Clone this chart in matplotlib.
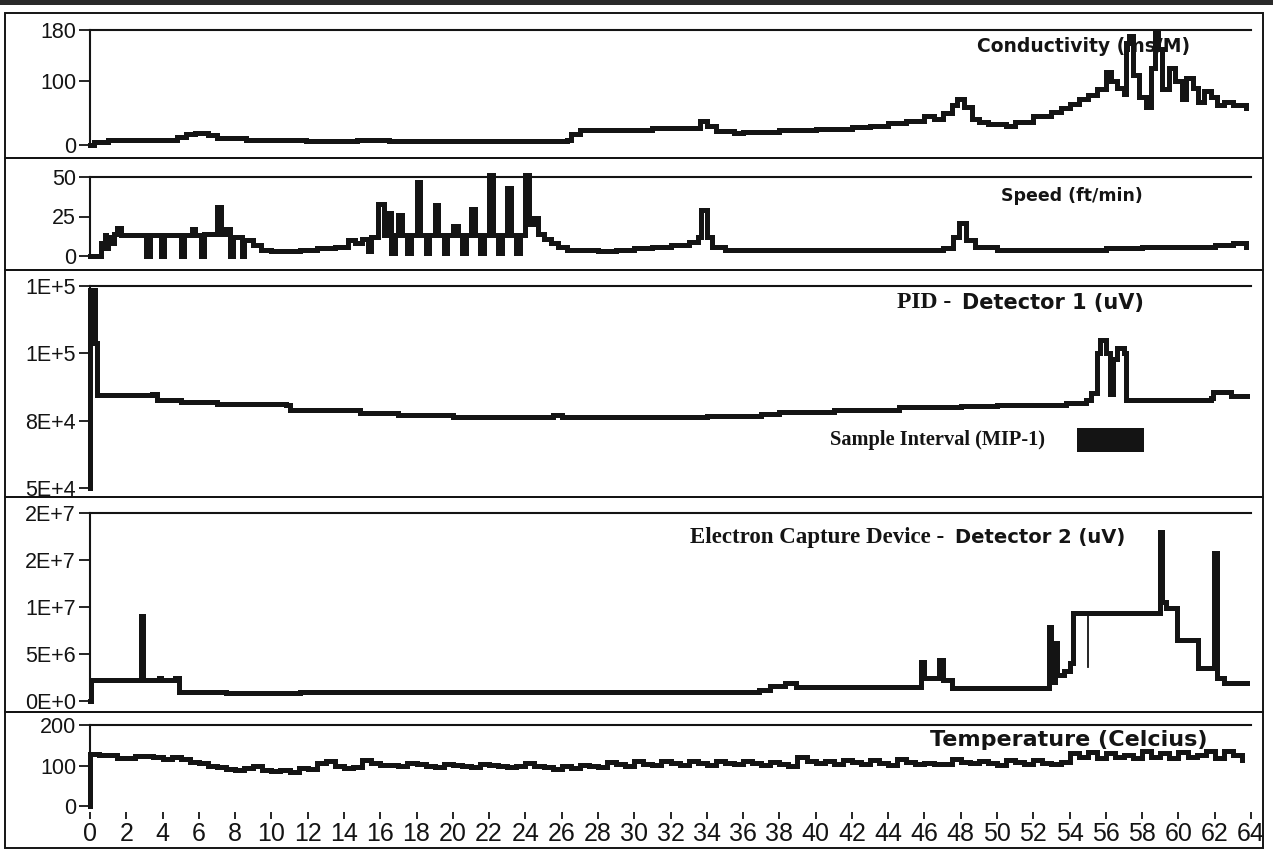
import matplotlib.pyplot as plt
from matplotlib.patches import Rectangle

plt.rcParams['font.family'] = ['Liberation Sans', 'DejaVu Sans']

x_ticks = list(range(0, 65, 2))

cond_t = [0, 0.2, 1, 3, 4.8, 5.3, 5.8, 6.5, 7, 8.6, 11.9, 14.7, 16.5, 26.3, 26.5, 27, 29, 31, 33,
          33.6, 34, 34.5, 35.5, 36, 38, 40, 42, 43, 44, 45, 46, 46.5, 47, 47.5, 47.8, 48.2, 48.6,
          49, 49.5, 50.5, 51, 52, 53, 53.5, 54, 54.5, 55, 55.5, 56, 56.3, 56.6, 57, 57.1, 57.3,
          57.5, 57.8, 58.2, 58.5, 58.7, 58.9, 59.1, 59.5, 59.8, 60.2, 60.4, 60.8, 61.1, 61.4,
          61.8, 62.1, 62.5, 63, 63.7]
cond_v = [0, 5, 8, 8, 12, 17, 19, 16, 11, 8, 6, 8, 6, 8, 18, 23, 24, 26, 27,
          38, 30, 22, 19, 21, 23, 25, 28, 30, 34, 38, 46, 40, 50, 62, 72, 60, 40,
          36, 33, 30, 36, 45, 52, 58, 64, 72, 78, 88, 115, 100, 90, 80, 160, 170,
          110, 75, 60, 120, 178, 150, 88, 120, 100, 72, 105, 90, 67, 85,
          75, 62, 68, 62, 58]

speed_t = [0, 0.5, 0.6, 0.8, 0.9, 1.0, 1.2, 1.3, 1.5, 1.7, 3.0, 3.1, 3.3, 3.8, 3.9, 4.1, 4.9, 5.0,
           5.2, 5.6, 5.8, 6.0, 6.1, 6.3, 6.9, 7.0, 7.2, 7.5, 7.7, 7.9, 8.3, 8.4, 8.5, 9.0, 9.4,
           10, 11.6, 12.5, 13.5, 14.2, 14.6, 15.0, 15.3, 15.5, 15.9, 16.2, 16.4, 16.6, 16.8,
           17.0, 17.2, 17.5, 17.7, 18.0, 18.2, 18.5, 18.7, 19.0, 19.2, 19.5, 19.7, 20.0, 20.3,
           20.5, 20.7, 21.0, 21.2, 21.5, 21.7, 22.0, 22.2, 22.5, 22.7, 23.0, 23.2, 23.5, 23.7,
           24.0, 24.2, 24.5, 24.7, 25.0, 25.4, 25.8, 26.3, 28, 29, 30, 31, 32, 33, 33.5, 33.7,
           34, 34.3, 35, 38, 42, 45, 47, 47.6, 47.9, 48.3, 48.8, 50, 54, 56, 58, 60, 62, 63, 63.7]
speed_v = [0, 0, 8, 13, 5, 12, 8, 14, 18, 13, 13, 0, 13, 13, 0, 13, 13, 0,
           13, 17, 13, 13, 0, 14, 14, 31, 14, 17, 0, 12, 12, 0, 10, 7, 4,
           3, 4, 5, 6, 10, 8, 11, 3, 12, 33, 13, 27, 2, 13,
           26, 13, 2, 13, 47, 13, 2, 13, 32, 13, 2, 13, 19, 13,
           2, 13, 30, 13, 2, 13, 51, 13, 2, 13, 43, 13, 2, 13,
           51, 20, 24, 14, 11, 8, 6, 4, 3, 4, 5, 6, 7, 9, 12, 29,
           12, 6, 4, 4, 4, 4, 5, 12, 21, 10, 6, 4, 4, 5, 6, 6, 7, 8, 6]

pid_t = [0, 0.02, 0.25, 0.4, 2.75, 3.4, 3.7, 5, 7, 10.8, 11, 13, 14.9, 17, 20, 24, 25.5, 26,
         30, 34, 37, 38, 41, 44.6, 48, 50, 53.8, 54.9, 55.2, 55.5, 55.7, 56.0, 56.2, 56.4,
         56.6, 57.0, 57.1, 61.8, 61.9, 62.9, 63.8]
pid_v = [50000, 123500, 104000, 84500, 84500, 85000, 82700, 81800, 81200, 80800, 79000, 78800,
         77800, 77000, 76500, 76500, 77000, 76300, 76500, 76800, 77500, 78400, 78800, 80000,
         80500, 80800, 81500, 82700, 85300, 100000, 105000, 100000, 85000, 98000, 102000,
         100000, 82700, 83400, 85600, 84000, 84000]
pid_ticks = [50000, 75000, 100000, 125000]
pid_labels = ['5E+4', '8E+4', '1E+5', '1E+5']
sample_interval = (54.4, 58.1)

ecd_t = [0, 0.05, 2.75, 2.8, 2.9, 3.8, 3.9, 4.7, 4.9, 7.5, 11.6, 36.9, 37.5, 38.3, 38.9, 45.7,
         45.8, 46.0, 46.8, 47.0, 47.5, 52.8, 52.85, 52.95, 53.2, 53.3, 53.7, 54.0, 54.2,
         59.0, 59.1, 59.3, 59.9, 61.1, 61.95, 62.1, 62.5, 63.8]
ecd_v = [0, 2.2e6, 2.2e6, 9.0e6, 2.2e6, 2.5e6, 2.2e6, 2.5e6, 1.0e6, 0.85e6, 1.0e6, 1.15e6,
         1.6e6, 1.9e6, 1.45e6, 1.5e6, 4.2e6, 2.4e6, 4.4e6, 2.2e6, 1.4e6, 1.4e6, 7.9e6, 2.0e6,
         6.2e6, 2.8e6, 3.2e6, 4.0e6, 9.4e6, 18e6, 10.5e6, 9.9e6, 6.5e6, 3.5e6,
         15.7e6, 2.4e6, 1.9e6, 1.9e6]
ecd_dip_t = [55.0, 55.0]
ecd_dip_v = [9.4e6, 3.6e6]
ecd_ticks = [0, 5e6, 1e7, 1.5e7, 2e7]
ecd_labels = ['0E+0', '5E+6', '1E+7', '2E+7', '2E+7']

temp_t = [0] + [i * 0.5 for i in range(128)]
temp_v = [0,
          128, 127, 125, 119, 118, 124, 124, 121, 117, 122, 116, 108, 105, 100, 97, 92,
          90, 93, 99, 88, 86, 90, 85, 94, 92, 105, 110, 100, 95, 96, 113, 107,
          102, 101, 99, 106, 104, 100, 97, 104, 101, 98, 96, 104, 102, 99, 97, 99,
          105, 100, 96, 92, 98, 94, 101, 98, 96, 108, 103, 100, 110, 104, 101, 112,
          106, 101, 111, 105, 101, 112, 107, 103, 112, 106, 102, 108, 104, 100, 122, 112,
          106, 110, 104, 114, 108, 103, 113, 107, 102, 115, 108, 104, 106, 103, 104, 115,
          109, 105, 112, 106, 101, 114, 108, 104, 113, 107, 103, 108, 132, 120, 134, 118,
          131, 120, 126, 118, 136, 122, 130, 118, 134, 120, 126, 136, 118, 135, 125, 114]

# ---- layout helpers (pixel -> figure fraction) ----
W, H = 1273, 851
fig = plt.figure(figsize=(12.73, 8.51), dpi=100)


def fx(x):
    return x / W


def fy(y):
    return 1 - y / H


INK = '#141414'
AX_L, AX_R = 90, 1251

# scan border / panel boxes
fig.add_artist(Rectangle((0, fy(5)), 1, fy(0) - fy(5), transform=fig.transFigure,
                         color='#2a2a2a', lw=0))
for top, bot in [(13, 158), (158, 270), (270, 497), (497, 712), (712, 848)]:
    fig.add_artist(Rectangle((fx(5), fy(bot)), fx(1263) - fx(5), fy(top) - fy(bot),
                             transform=fig.transFigure, fill=False, ec=INK, lw=1.4))

panels = [
    (30, 145, cond_t, cond_v, (0, 180), [0, 100, 180], ['0', '100', '180']),
    (177, 256, speed_t, speed_v, (0, 50), [0, 25, 50], ['0', '25', '50']),
    (286, 488, pid_t, pid_v, (50000, 125000), pid_ticks, pid_labels),
    (513, 701, ecd_t, ecd_v, (0, 2e7), ecd_ticks, ecd_labels),
    (725, 806, temp_t, temp_v, (0, 200), [0, 100, 200], ['0', '100', '200']),
]

axes = []
for i, (top, bot, t, v, ylim, yt, ytl) in enumerate(panels):
    ax = fig.add_axes([fx(AX_L), fy(bot), fx(AX_R) - fx(AX_L), fy(top) - fy(bot)])
    ax.plot(t, v, drawstyle='steps-post', color=INK, lw=3.6, clip_on=False,
            solid_joinstyle='miter')
    ax.set_xlim(0, 64)
    ax.set_ylim(*ylim)
    ax.set_yticks(yt)
    ax.set_yticklabels(ytl)
    for s in ['right', 'bottom']:
        ax.spines[s].set_visible(False)
    for s in ['left', 'top']:
        ax.spines[s].set_linewidth(1.5)
        ax.spines[s].set_color(INK)
    ax.tick_params(axis='y', direction='out', length=8, width=1.3, pad=2,
                   labelsize=15.5, colors=INK)
    if i < 4:
        ax.set_xticks([])
    else:
        ax.spines['bottom'].set_position(('outward', 4.5))
        ax.set_xticks(x_ticks)
        ax.set_xticklabels([str(x) for x in x_ticks])
        ax.tick_params(axis='x', direction='out', length=5, width=1.3, pad=2,
                       labelsize=18, colors=INK)
    ax.patch.set_alpha(0)
    axes.append(ax)

# thin drop-out line in the ECD trace
axes[3].plot(ecd_dip_t, ecd_dip_v, color=INK, lw=1.3)

# sample interval bar on the PID panel
axes[2].axvspan(sample_interval[0], sample_interval[1], ymin=0.178, ymax=0.297,
                color=INK, lw=0)

# ---- titles ----
sans_b = dict(family='DejaVu Sans', weight='bold', color=INK, va='center')
serif_b = dict(family='Liberation Serif', weight='bold', color=INK, va='center')

fig.text(fx(1084), fy(47), 'Conductivity (ms/M)', ha='center', fontsize=13.5, **sans_b)
fig.text(fx(1072), fy(196), 'Speed (ft/min)', ha='center', fontsize=12.5, **sans_b)
fig.text(fx(957), fy(303), 'PID - ', ha='right', fontsize=17, **serif_b)
fig.text(fx(962), fy(303), 'Detector 1 (uV)', ha='left', fontsize=15, **sans_b)
fig.text(fx(830), fy(440), 'Sample Interval (MIP-1)', ha='left', fontsize=14.7, **serif_b)
fig.text(fx(950), fy(537), 'Electron Capture Device - ', ha='right', fontsize=16.5, **serif_b)
fig.text(fx(955), fy(537), 'Detector 2 (uV)', ha='left', fontsize=14, **sans_b)
fig.text(fx(1069), fy(740), 'Temperature (Celcius)', ha='center', fontsize=16, **sans_b)

fig.savefig('out.png', dpi=100, facecolor='white')
